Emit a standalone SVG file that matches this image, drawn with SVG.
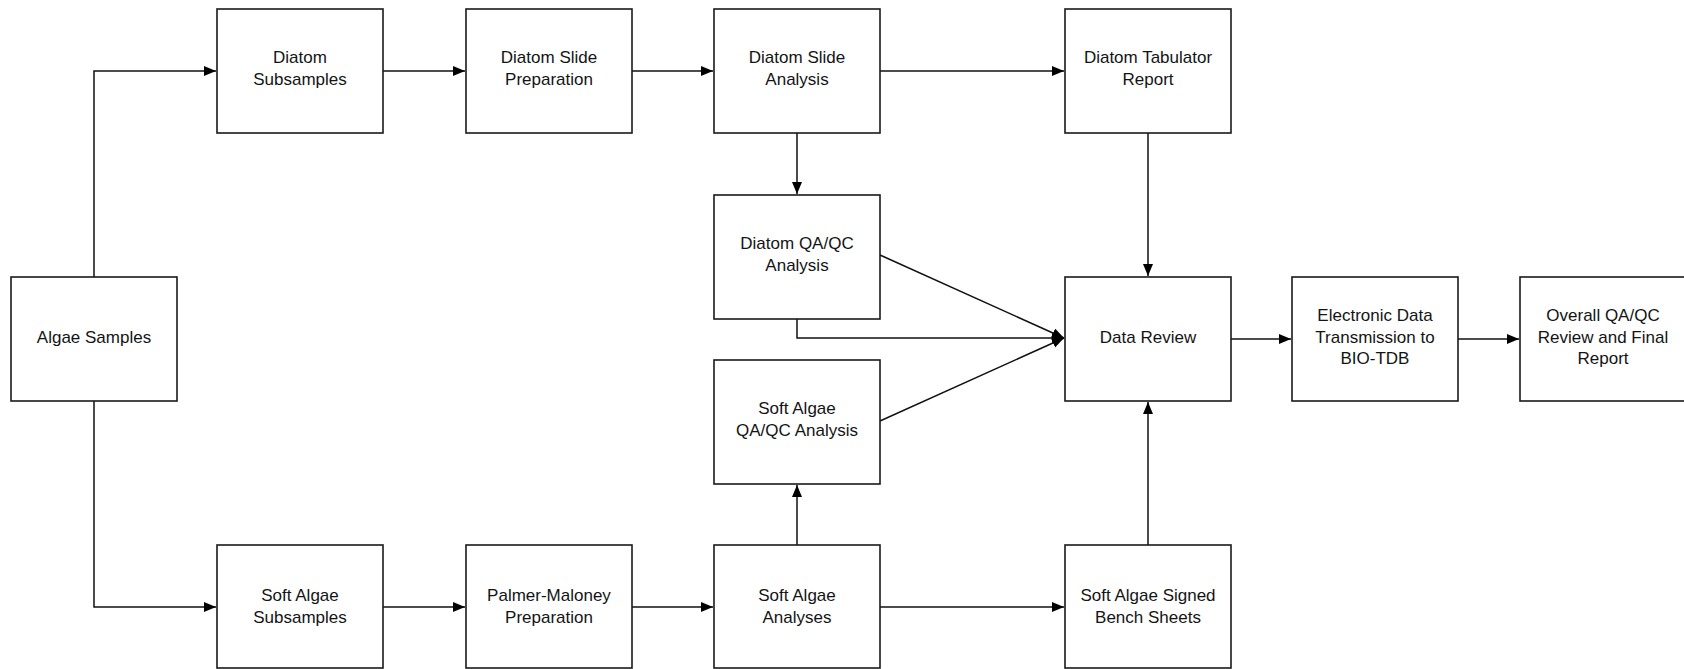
<svg xmlns="http://www.w3.org/2000/svg" width="1684" height="669" viewBox="0 0 1684 669">
<style>
.box{fill:#fff;stroke:#1a1a1a;stroke-width:1.6}
.t{font-family:"Liberation Sans",Arial,sans-serif;font-size:17px;fill:#141414;text-anchor:middle}
.c{fill:none;stroke:#111;stroke-width:1.5}
</style>
<defs>
<marker id="ah" markerUnits="userSpaceOnUse" markerWidth="14" markerHeight="12" refX="12" refY="5" orient="auto">
<path d="M0,0 L12,5 L0,10 Z" fill="#000"/>
</marker>
</defs>
<rect width="1684" height="669" fill="#fff"/>
<g id="connectors">
<path class="c" d="M94,277 V71 H216" marker-end="url(#ah)"/>
<path class="c" d="M94,401 V607 H216" marker-end="url(#ah)"/>
<path class="c" d="M383,71 H465" marker-end="url(#ah)"/>
<path class="c" d="M632,71 H713" marker-end="url(#ah)"/>
<path class="c" d="M880,71 H1064" marker-end="url(#ah)"/>
<path class="c" d="M797,133 V194" marker-end="url(#ah)"/>
<path class="c" d="M1148,133 V276" marker-end="url(#ah)"/>
<path class="c" d="M797,319 V338 H1064" marker-end="url(#ah)"/>
<path class="c" d="M880,255 L1064,338" marker-end="url(#ah)"/>
<path class="c" d="M880,421 L1064,338" marker-end="url(#ah)"/>
<path class="c" d="M1231,339 H1291" marker-end="url(#ah)"/>
<path class="c" d="M1458,339 H1519" marker-end="url(#ah)"/>
<path class="c" d="M383,607 H465" marker-end="url(#ah)"/>
<path class="c" d="M632,607 H713" marker-end="url(#ah)"/>
<path class="c" d="M880,607 H1064" marker-end="url(#ah)"/>
<path class="c" d="M797,545 V485" marker-end="url(#ah)"/>
<path class="c" d="M1148,545 V402" marker-end="url(#ah)"/>
</g>
<g id="algae-samples"><rect class="box" x="11" y="277" width="166" height="124"/><text class="t" x="94" y="343">Algae Samples</text></g>
<g id="diatom-subsamples"><rect class="box" x="217" y="9" width="166" height="124"/><text class="t" x="300" y="63">Diatom</text><text class="t" x="300" y="85">Subsamples</text></g>
<g id="diatom-slide-prep"><rect class="box" x="466" y="9" width="166" height="124"/><text class="t" x="549" y="63">Diatom Slide</text><text class="t" x="549" y="85">Preparation</text></g>
<g id="diatom-slide-analysis"><rect class="box" x="714" y="9" width="166" height="124"/><text class="t" x="797" y="63">Diatom Slide</text><text class="t" x="797" y="85">Analysis</text></g>
<g id="diatom-tabulator"><rect class="box" x="1065" y="9" width="166" height="124"/><text class="t" x="1148" y="63">Diatom Tabulator</text><text class="t" x="1148" y="85">Report</text></g>
<g id="diatom-qaqc"><rect class="box" x="714" y="195" width="166" height="124"/><text class="t" x="797" y="249">Diatom QA/QC</text><text class="t" x="797" y="271">Analysis</text></g>
<g id="data-review"><rect class="box" x="1065" y="277" width="166" height="124"/><text class="t" x="1148" y="343">Data Review</text></g>
<g id="soft-qaqc"><rect class="box" x="714" y="360" width="166" height="124"/><text class="t" x="797" y="414">Soft Algae</text><text class="t" x="797" y="436">QA/QC Analysis</text></g>
<g id="electronic"><rect class="box" x="1292" y="277" width="166" height="124"/><text class="t" x="1375" y="321">Electronic Data</text><text class="t" x="1375" y="343">Transmission to</text><text class="t" x="1375" y="364">BIO-TDB</text></g>
<g id="overall"><rect class="box" x="1520" y="277" width="166" height="124"/><text class="t" x="1603" y="321">Overall QA/QC</text><text class="t" x="1603" y="343">Review and Final</text><text class="t" x="1603" y="364">Report</text></g>
<g id="soft-subsamples"><rect class="box" x="217" y="545" width="166" height="123"/><text class="t" x="300" y="601">Soft Algae</text><text class="t" x="300" y="623">Subsamples</text></g>
<g id="palmer"><rect class="box" x="466" y="545" width="166" height="123"/><text class="t" x="549" y="601">Palmer-Maloney</text><text class="t" x="549" y="623">Preparation</text></g>
<g id="soft-analyses"><rect class="box" x="714" y="545" width="166" height="123"/><text class="t" x="797" y="601">Soft Algae</text><text class="t" x="797" y="623">Analyses</text></g>
<g id="bench-sheets"><rect class="box" x="1065" y="545" width="166" height="123"/><text class="t" x="1148" y="601">Soft Algae Signed</text><text class="t" x="1148" y="623">Bench Sheets</text></g>
</svg>
